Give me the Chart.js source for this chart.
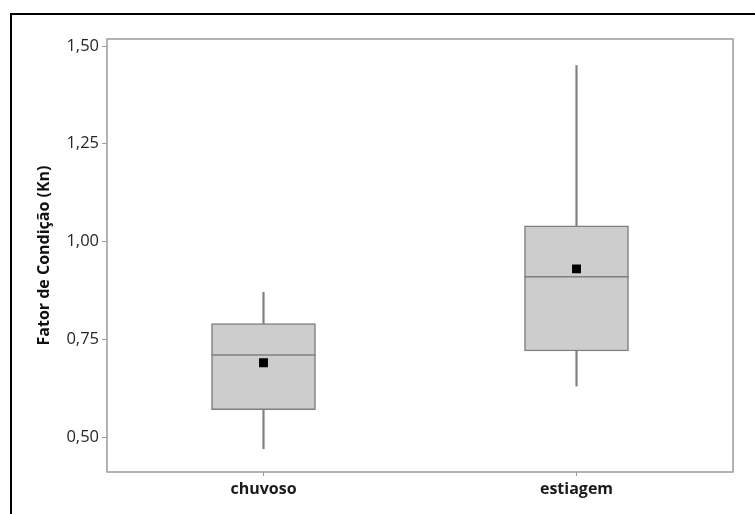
<!DOCTYPE html>
<html>
<head>
<meta charset="utf-8">
<script src="https://cdn.jsdelivr.net/npm/chart.js@4/dist/chart.umd.min.js"></script>
<style>
  html, body { margin: 0; padding: 0; background: #ffffff; }
  #wrap { position: relative; width: 755px; height: 514px; }
  #frame {
    position: absolute; left: 10px; top: 13px; right: 0; bottom: 0;
    border-top: 2px solid #000; border-left: 2px solid #000;
    pointer-events: none;
  }
</style>
</head>
<body>
<div id="wrap">
  <canvas id="chart" width="755" height="514"></canvas>
  <div id="frame"></div>
</div>
<script>
// DATA //
const categories = ['chuvoso', 'estiagem'];
const whiskerLow = [0.47, 0.63];
const q1Values = [0.57, 0.72];
const medianValues = [0.71, 0.91];
const q3Values = [0.79, 1.04];
const whiskerHigh = [0.87, 1.45];
const meanValues = [0.69, 0.93];
const yTickValues = [0.50, 0.75, 1.00, 1.25, 1.50];

const GRAY = '#7f7f7f';
const FONT = "'Open Sans', sans-serif";

// plot frame around the chart area //
const areaBorder = {
  id: 'areaBorder',
  afterDraw(chart) {
    const {ctx, chartArea: a} = chart;
    ctx.save();
    ctx.strokeStyle = '#9a9a9a';
    ctx.lineWidth = 1.5;
    ctx.strokeRect(a.left, a.top, a.right - a.left, a.bottom - a.top);
    ctx.restore();
  }
};

new Chart(document.getElementById('chart'), {
  type: 'bar',
  data: {
    labels: categories,
    datasets: [
      {
        // MEAN //
        type: 'line',
        data: meanValues,
        showLine: false,
        pointStyle: 'rect',
        pointRadius: 6.3,
        pointBackgroundColor: '#000000',
        pointBorderColor: '#000000',
        pointBorderWidth: 0,
        order: 1
      },
      {
        // MEDIAN (wide 'line' point = median bar) //
        type: 'line',
        data: medianValues,
        showLine: false,
        pointStyle: 'line',
        pointRadius: 52,
        pointBorderColor: GRAY,
        pointBorderWidth: 1.5,
        order: 2
      },
      {
        // BOX //
        data: categories.map((c, i) => [q1Values[i], q3Values[i]]),
        backgroundColor: '#cdcdcd',
        borderColor: GRAY,
        borderWidth: 1.5,
        borderSkipped: false,
        barThickness: 104,
        grouped: false,
        order: 3
      },
      {
        // WHISKERS //
        data: categories.map((c, i) => [whiskerLow[i], whiskerHigh[i]]),
        backgroundColor: GRAY,
        borderWidth: 0,
        barThickness: 1.5,
        grouped: false,
        order: 4
      }
    ]
  },
  options: {
    responsive: false,
    animation: false,
    events: [],
    // the 52px median points would otherwise inflate the padding //
    layout: {autoPadding: false, padding: {top: 39, right: 22, left: 31, bottom: 0}},
    plugins: {legend: {display: false}, tooltip: {enabled: false}},
    scales: {
      x: {
        offset: true,
        grid: {offset: false, drawOnChartArea: false, drawTicks: true, tickLength: 4, color: '#9a9a9a'},
        border: {display: false},
        ticks: {
          color: '#1a1a1a',
          padding: 4,
          font: {family: FONT, size: 16, weight: 'bold'}
        },
        afterFit(scale) { scale.height = 42; }
      },
      y: {
        min: 0.4105,
        max: 1.518,
        grid: {drawOnChartArea: false, drawTicks: true, tickLength: 5, color: '#9a9a9a'},
        border: {display: false},
        afterBuildTicks(scale) { scale.ticks = yTickValues.map(v => ({value: v})); },
        ticks: {
          color: '#262626',
          padding: 3,
          font: {family: FONT, size: 16.5},
          callback: (v) => Number(v).toFixed(2).replace('.', ',')
        },
        title: {
          display: true,
          text: 'Fator de Condição (Kn)',
          color: '#111111',
          padding: {top: 4, bottom: 0},
          font: {family: FONT, size: 16, weight: 'bold'}
        },
        afterFit(scale) { scale.width = 76; }
      }
    }
  },
  plugins: [areaBorder]
});
</script>
</body>
</html>
